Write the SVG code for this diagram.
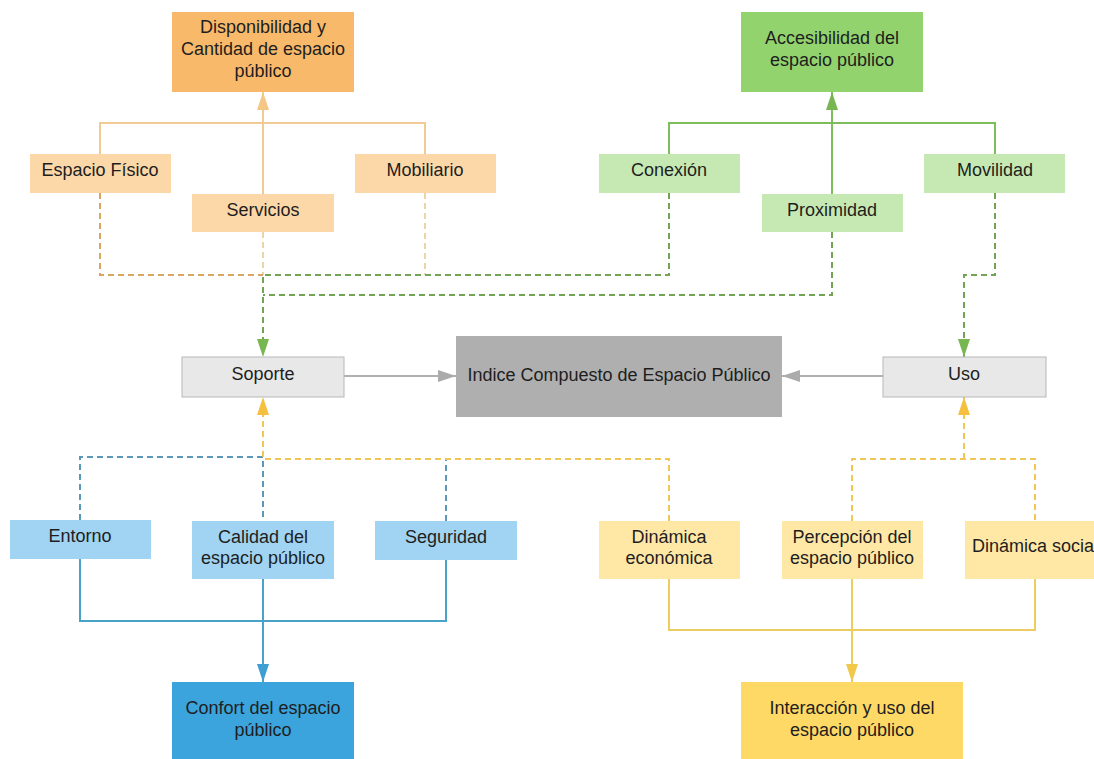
<svg xmlns="http://www.w3.org/2000/svg" width="1094" height="759" viewBox="0 0 1094 759">
<style>
text{font-family:"Liberation Sans",Arial,sans-serif;font-size:18px;fill:#1e1e1e;text-anchor:middle}
.c{fill:none;stroke-width:2}
.d{stroke-dasharray:6 4}
</style>
<defs>
<marker id="mo" markerUnits="userSpaceOnUse" markerWidth="18" markerHeight="12" refX="18" refY="6" orient="auto" viewBox="0 0 18 12"><path d="M0,0 L18,6 L0,12 Z" fill="#F5C784"/></marker>
<marker id="mg" markerUnits="userSpaceOnUse" markerWidth="18" markerHeight="12" refX="18" refY="6" orient="auto" viewBox="0 0 18 12"><path d="M0,0 L18,6 L0,12 Z" fill="#78B652"/></marker>
<marker id="mgr" markerUnits="userSpaceOnUse" markerWidth="18" markerHeight="12" refX="18" refY="6" orient="auto" viewBox="0 0 18 12"><path d="M0,0 L18,6 L0,12 Z" fill="#ABABAB"/></marker>
<marker id="my" markerUnits="userSpaceOnUse" markerWidth="18" markerHeight="12" refX="18" refY="6" orient="auto" viewBox="0 0 18 12"><path d="M0,0 L18,6 L0,12 Z" fill="#F5BF3F"/></marker>
<marker id="mb" markerUnits="userSpaceOnUse" markerWidth="18" markerHeight="12" refX="18" refY="6" orient="auto" viewBox="0 0 18 12"><path d="M0,0 L18,6 L0,12 Z" fill="#3E9FD2"/></marker>
<marker id="myl" markerUnits="userSpaceOnUse" markerWidth="18" markerHeight="12" refX="18" refY="6" orient="auto" viewBox="0 0 18 12"><path d="M0,0 L18,6 L0,12 Z" fill="#F2C84B"/></marker>
</defs>
<g id="connectors">
<path class="c" stroke="#F0CC94" d="M100,154 V123 H425 V154"/>
<path class="c" stroke="#F0CC94" d="M263,194 V92" marker-end="url(#mo)"/>
<path class="c" stroke="#7DBD5C" d="M669,154 V123 H995 V154"/>
<path class="c" stroke="#7DBD5C" d="M832,194 V92" marker-end="url(#mg)"/>
<path class="c d" stroke="#EDD3A6" d="M425,193 V275"/>
<path class="c d" stroke="#EDD3A6" d="M263,232 V275"/>
<path class="c d" stroke="#D9A663" d="M100,193 V275 H263"/>
<path class="c d" stroke="#72A454" d="M669,193 V275 H263 V357" marker-end="url(#mg)"/>
<path class="c d" stroke="#72A454" d="M832,232 V295 H263"/>
<path class="c d" stroke="#72A454" d="M995,193 V275 H964 V357" marker-end="url(#mg)"/>
<path class="c" stroke="#B0B0B0" d="M344,376 H456" marker-end="url(#mgr)"/>
<path class="c" stroke="#B0B0B0" d="M883,376 H782" marker-end="url(#mgr)"/>
<path class="c d" stroke="#5A97B8" d="M80,520 V457 H263 V521"/>
<path class="c d" stroke="#5A97B8" d="M446,521 V459"/>
<path class="c d" stroke="#F0C656" d="M669,521 V459 H263 V397" marker-end="url(#my)"/>
<path class="c d" stroke="#F0C656" d="M852,521 V459 H1035 V521"/>
<path class="c d" stroke="#F0C656" d="M964,459 V397" marker-end="url(#my)"/>
<path class="c" stroke="#4BA2C9" d="M80,559 V621 H446 V560"/>
<path class="c" stroke="#4BA2C9" d="M263,579 V682" marker-end="url(#mb)"/>
<path class="c" stroke="#EDCC62" d="M669,579 V630 H1035 V579"/>
<path class="c" stroke="#EDCC62" d="M852,579 V682" marker-end="url(#myl)"/>
</g>
<g id="disponibilidad"><rect x="172" y="12" width="182" height="80" fill="#F9B96B"/><text x="263" y="33">Disponibilidad y</text><text x="263" y="55">Cantidad de espacio</text><text x="263" y="77">público</text></g>
<g id="espacio-fisico"><rect x="30" y="154" width="141" height="39" fill="#FCD8A8"/><text x="100" y="176">Espacio Físico</text></g>
<g id="servicios"><rect x="192" y="194" width="142" height="38" fill="#FCD8A8"/><text x="263" y="216">Servicios</text></g>
<g id="mobiliario"><rect x="355" y="154" width="141" height="39" fill="#FCD8A8"/><text x="425" y="176">Mobiliario</text></g>
<g id="accesibilidad"><rect x="741" y="12" width="182" height="80" fill="#92D36E"/><text x="832" y="44">Accesibilidad del</text><text x="832" y="66">espacio público</text></g>
<g id="conexion"><rect x="599" y="154" width="141" height="39" fill="#C6E9B3"/><text x="669" y="176">Conexión</text></g>
<g id="proximidad"><rect x="762" y="194" width="141" height="38" fill="#C6E9B3"/><text x="832" y="216">Proximidad</text></g>
<g id="movilidad"><rect x="924" y="154" width="141" height="39" fill="#C6E9B3"/><text x="995" y="176">Movilidad</text></g>
<g id="soporte"><rect x="182" y="357" width="162" height="40" fill="#E8E8E8" stroke="#B8B8B8" stroke-width="1"/><text x="263" y="380">Soporte</text></g>
<g id="indice"><rect x="456" y="336" width="326" height="81" fill="#AFAFAF"/><text x="619" y="381">Indice Compuesto de Espacio Público</text></g>
<g id="uso"><rect x="883" y="357" width="163" height="40" fill="#E8E8E8" stroke="#B8B8B8" stroke-width="1"/><text x="964" y="380">Uso</text></g>
<g id="entorno"><rect x="10" y="520" width="141" height="39" fill="#A0D4F2"/><text x="80" y="542">Entorno</text></g>
<g id="calidad"><rect x="192" y="521" width="142" height="58" fill="#A0D4F2"/><text x="263" y="543">Calidad del</text><text x="263" y="564">espacio público</text></g>
<g id="seguridad"><rect x="375" y="521" width="142" height="39" fill="#A0D4F2"/><text x="446" y="543">Seguridad</text></g>
<g id="confort"><rect x="172" y="682" width="182" height="78" fill="#3BA4DC"/><text x="263" y="714">Confort del espacio</text><text x="263" y="736">público</text></g>
<g id="dinamica-economica"><rect x="599" y="521" width="141" height="58" fill="#FFE8A6"/><text x="669" y="543">Dinámica</text><text x="669" y="564">económica</text></g>
<g id="percepcion"><rect x="782" y="521" width="141" height="58" fill="#FFE8A6"/><text x="852" y="543">Percepción del</text><text x="852" y="564">espacio público</text></g>
<g id="dinamica-social"><rect x="965" y="521" width="141" height="58" fill="#FFE8A6"/><text x="1035" y="552">Dinámica social</text></g>
<g id="interaccion"><rect x="741" y="682" width="222" height="78" fill="#FFD966"/><text x="852" y="714">Interacción y uso del</text><text x="852" y="736">espacio público</text></g>
</svg>
